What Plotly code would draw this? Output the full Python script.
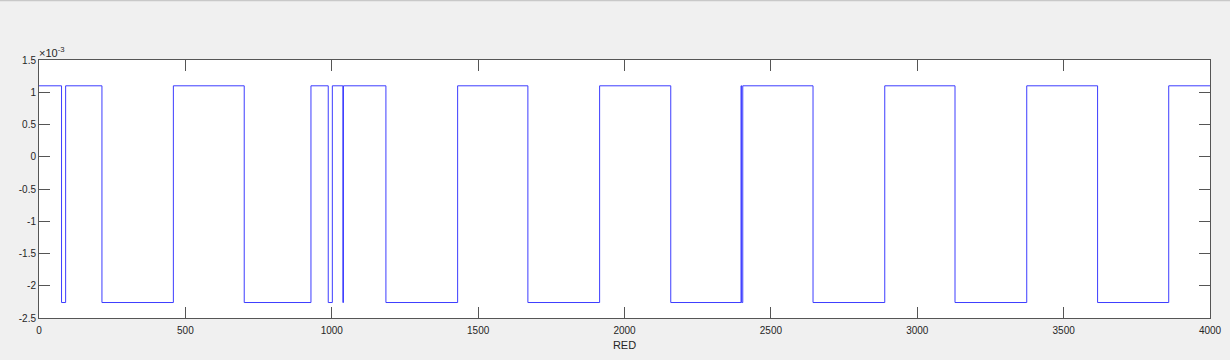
import plotly.graph_objects as go

# Signal: x position where the level changes, and the level (units of 1e-3)
step_x = [0, 77, 91, 215, 459, 701, 929, 988, 1002, 1038, 1040, 1185, 1430, 1670,
          1915, 2158, 2398, 2400, 2404, 2644, 2889, 3129, 3374, 3616, 3859, 4000]
step_level = [1.1, -2.26, 1.1, -2.26, 1.1, -2.26, 1.1, -2.26, 1.1, -2.26, 1.1, -2.26, 1.1, -2.26,
              1.1, -2.26, 1.1, -2.26, 1.1, -2.26, 1.1, -2.26, 1.1, -2.26, 1.1, 1.1]

x_ticks = [0, 500, 1000, 1500, 2000, 2500, 3000, 3500, 4000]
y_ticks = [-2.5, -2, -1.5, -1, -0.5, 0, 0.5, 1, 1.5]
y_ticktext = ["-2.5", "-2", "-1.5", "-1", "-0.5", "0", "0.5", "1", "1.5"]
x_label = "RED"
exponent_label = "\u00d710<sup>-3</sup>"

FONT = "Liberation Sans, Arial, sans-serif"

fig = go.Figure()
fig.add_trace(go.Scatter(
    x=step_x, y=step_level, mode="lines", line_shape="hv",
    line=dict(color="#3c3cff", width=1), showlegend=False, hoverinfo="skip"))

axis_common = dict(
    showgrid=False, zeroline=False, showline=True, linecolor="#555555", linewidth=1,
    mirror="ticks", ticks="inside", ticklen=11, tickcolor="#555555", tickwidth=1,
    tickfont=dict(family=FONT, size=10, color="#262626"), automargin=False,
)

fig.update_xaxes(range=[0, 4000], tickvals=x_ticks, ticklabelstandoff=3, **axis_common,
                 title=dict(text=x_label, standoff=6,
                            font=dict(family=FONT, size=11, color="#262626")))
fig.update_yaxes(range=[-2.5, 1.5], tickvals=y_ticks, ticktext=y_ticktext, **axis_common)

fig.add_annotation(x=0, y=1, xref="paper", yref="paper", xanchor="left", yanchor="bottom",
                   text=exponent_label, showarrow=False, xshift=-2, yshift=-1,
                   font=dict(family=FONT, size=11, color="#262626"))

# window frame edge at the top
fig.add_shape(type="line", xref="paper", yref="paper", x0=-0.05, x1=1.05, y0=1.232, y1=1.232,
              line=dict(color="#c8c8c8", width=2))

fig.update_layout(
    width=1230, height=360,
    margin=dict(l=39, r=20, t=60, b=42, autoexpand=False),
    paper_bgcolor="#f0f0f0", plot_bgcolor="#ffffff",
)

fig.write_html("out.html")
